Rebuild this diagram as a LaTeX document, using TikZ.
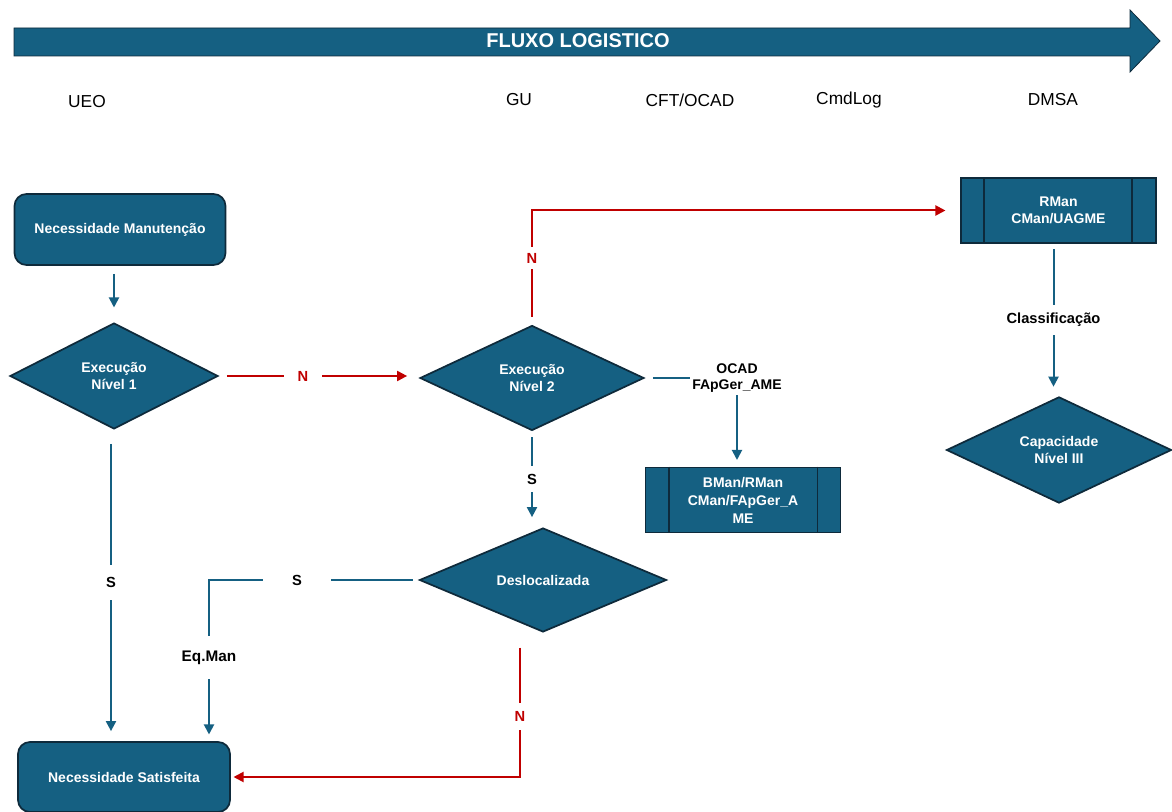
\documentclass[tikz,border=0pt]{standalone}
\usepackage{fontspec}
\setmainfont{Liberation Sans}
\usetikzlibrary{shapes.geometric,arrows.meta}
\definecolor{mainblue}{HTML}{156082}
\definecolor{edgecol}{HTML}{0E2A3B}
\definecolor{nred}{HTML}{C00000}
\begin{document}
\begin{tikzpicture}[x=0.75pt,y=-0.75pt,
  box/.style={draw=edgecol, line width=1.3pt, fill=mainblue, text=white,
    font=\bfseries\fontsize{10.5}{13}\selectfont, align=center},
  procbox/.style={box, rectangle, rounded corners=9pt},
  decbox/.style={box, diamond, inner sep=0pt},
  ppbox/.style={box, rectangle, inner sep=0pt},
  barline/.style={draw=edgecol, line width=1.3pt},
  blueln/.style={draw=mainblue, line width=1.5pt},
  bluearr/.style={blueln, -{Triangle[length=7.5pt,width=7.5pt]}},
  redln/.style={draw=nred, line width=1.5pt},
  redarr/.style={redln, -{Triangle[length=7.5pt,width=7.5pt]}},
  lbl/.style={fill=white, font=\bfseries\fontsize{11}{13}\selectfont, align=center, text=black},
  rlbl/.style={lbl, text=nred},
  collbl/.style={font=\fontsize{13}{15}\selectfont}
]
\useasboundingbox (0,0) rectangle (1172,812);

% header arrow
\fill[mainblue, draw=edgecol, line width=0.6pt]
  (14,28) -- (1130,28) -- (1130,10) -- (1160,41) -- (1130,72) -- (1130,56) -- (14,56) -- cycle;
\node[text=white, font=\bfseries\fontsize{15}{18}\selectfont] (flux) at (578,41) {FLUXO LOGISTICO};

% column labels
\node[collbl] (cueo) at (87,102) {UEO};
\node[collbl] (cgu) at (519,100) {GU};
\node[collbl] (ccft) at (690,100) {CFT/OCAD};
\node[collbl] (ccmd) at (849,100) {CmdLog};
\node[collbl] (cdmsa) at (1053,100) {DMSA};

% nodes
\node[procbox, minimum width=158.25pt, minimum height=53.25pt] (n1) at (120,229.5) {Necessidade Manutenção};
\node[decbox, minimum width=156pt, minimum height=79.5pt] (d1) at (114,376) {Execução\\Nível 1};
\node[decbox, minimum width=168pt, minimum height=78.75pt] (d2) at (532,378) {Execução\\Nível 2};
\node[ppbox, minimum width=146.25pt, minimum height=48.75pt] (r1) at (1058.5,210.5) {RMan\\CMan/UAGME};
\draw[barline] ([xshift=18pt]r1.north west) -- ([xshift=18pt]r1.south west);
\draw[barline] ([xshift=-18.5pt]r1.north east) -- ([xshift=-18.5pt]r1.south east);
\node[decbox, minimum width=168.75pt, minimum height=78pt] (d3) at (1059,450) {Capacidade\\Nível III};
\node[ppbox, minimum width=146.25pt, minimum height=48.75pt, font=\bfseries\fontsize{10.5}{13.5}\selectfont] (r2) at (743,500) {BMan/RMan\\CMan/FApGer\_A\\ME};
\draw[barline] ([xshift=18pt]r2.north west) -- ([xshift=18pt]r2.south west);
\draw[barline] ([xshift=-18pt]r2.north east) -- ([xshift=-18pt]r2.south east);
\node[decbox, minimum width=185.25pt, minimum height=78pt] (d4) at (543,580) {Deslocalizada};
\node[procbox, minimum width=159pt, minimum height=52.5pt] (n2) at (124,777) {Necessidade Satisfeita};

% connectors
\draw[bluearr, shorten <=6pt, shorten >=11pt] (n1.south -| d1.north) -- (d1.north);

\draw[redarr, shorten <=6pt, shorten >=9pt] (d1.east) -- (d1.east -| d2.west)
  node[rlbl, pos=0.42, inner xsep=10pt, inner ysep=3pt] {N};

\draw[redarr, shorten <=6pt, shorten >=11pt] (d2.north) |- (r1.west)
  node[rlbl, pos=0.29, inner xsep=3pt, inner ysep=4.5pt] {N};

\draw[bluearr, shorten <=6pt, shorten >=5pt] (d2.east) -| ([xshift=-4.5pt]r2.north)
  node[lbl, pos=0.5, inner sep=1.5pt, font=\bfseries\fontsize{10.5}{12.5}\selectfont] {OCAD\\FApGer\_AME};

\draw[bluearr, shorten <=4.5pt, shorten >=7.5pt] (d2.south) -- (d2.south |- d4.north)
  node[lbl, pos=0.5, inner xsep=3pt, inner ysep=6pt] {S};

\draw[bluearr, shorten <=4pt, shorten >=7pt] ([xshift=-3.75pt]r1.south) -- ([xshift=-3.75pt]r1.south |- d3.north)
  node[lbl, pos=0.5, inner xsep=3pt, inner ysep=6pt] {Classificação};

\draw[bluearr, shorten <=10.5pt, shorten >=7.5pt] ([xshift=-2.25pt]d1.south) -- ([xshift=-2.25pt]d1.south |- n2.north)
  node[lbl, pos=0.49, inner xsep=3pt, inner ysep=9pt] {S};

\draw[bluearr, shorten <=4.5pt, shorten >=5pt] (d4.west) -| ([xshift=63.75pt]n2.north)
  node[lbl, pos=0.29, inner xsep=22pt, inner ysep=3pt] {S}
  node[lbl, pos=0.74, inner xsep=3pt, inner ysep=11pt, font=\bfseries\fontsize{11.5}{13}\selectfont] {Eq.Man};

\draw[redarr, shorten <=11pt, shorten >=2pt] ([xshift=-17.25pt]d4.south) |- (n2.east)
  node[rlbl, pos=0.29, inner xsep=3pt, inner ysep=6pt] {N};
\end{tikzpicture}
\end{document}
